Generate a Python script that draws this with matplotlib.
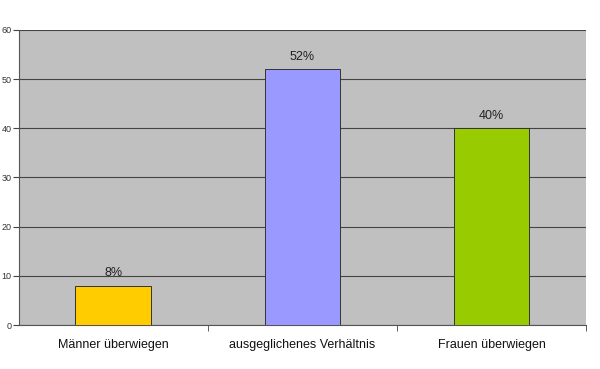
import matplotlib

matplotlib.use("Agg")
import matplotlib.pyplot as plt
import numpy as np

categories = ["Männer überwiegen", "ausgeglichenes Verhältnis", "Frauen überwiegen"]
values = [8, 52, 40]
value_labels = ["8%", "52%", "40%"]
colors = ["#FFCC00", "#9999FF", "#99CC00"]
y_ticks = [0, 10, 20, 30, 40, 50, 60]

plt.rcParams["font.family"] = ["Liberation Sans", "DejaVu Sans"]

fig = plt.figure(figsize=(6, 3.69), dpi=100)
ax = fig.add_axes([0.031, 0.119, 0.946, 0.8])
ax.set_facecolor("#C0C0C0")

x = np.arange(len(categories))
ax.bar(x, values, width=0.4, color=colors, edgecolor="#333333", linewidth=0.7, zorder=3)
for xi, v, lab in zip(x, values, value_labels):
    ax.text(xi, v + 1.3, lab, ha="center", va="bottom", fontsize=9, color="#222222")

ax.set_xlim(-0.5, 2.5)
ax.set_ylim(0, 60)
ax.set_yticks(y_ticks)
ax.yaxis.grid(True, color="#444444", linewidth=0.8, zorder=0)
ax.set_axisbelow(True)

ax.set_xticks(x)
ax.set_xticklabels(categories, fontsize=9, color="#111111")
ax.tick_params(axis="x", length=0, pad=10)
ax.set_xticks([0.5, 1.5, 2.5], minor=True)
ax.tick_params(axis="x", which="minor", length=4, color="#444444")
ax.tick_params(axis="y", labelsize=6.5, length=4, color="#444444", labelcolor="#333333", pad=1)

for s in ("top", "right"):
    ax.spines[s].set_visible(False)
for s in ("left", "bottom"):
    ax.spines[s].set_color("#555555")
    ax.spines[s].set_linewidth(0.8)

fig.savefig("out.png", dpi=100)
